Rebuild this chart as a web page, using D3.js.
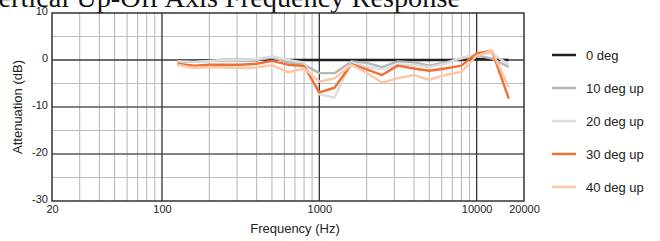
<!DOCTYPE html>
<html>
<head>
<meta charset="utf-8">
<script src="https://cdn.jsdelivr.net/npm/d3@7"></script>
<style>
  body { margin: 0; background: #fff; }
  svg { display: block; }
</style>
</head>
<body>
<div id="chart"></div>
<script>
// frequency points, 1/3 octave
var freqs = [125, 160, 200, 250, 315, 400, 500, 630, 800, 1000, 1250, 1600, 2000, 2500, 3150, 4000, 5000, 6300, 8000, 10000, 12500, 16000];

var deg0  = [-0.2, -0.2, -0.1, 0, 0, 0, 0.2, 0, 0, 0, 0, 0, 0, 0, 0, 0, 0, 0, 0, 0.2, 0.1, 0];
var deg10 = [-0.3, -0.4, -0.2, 0, -0.2, 0, 0.5, -0.5, -1.0, -2.8, -2.8, -0.3, -0.6, -1.5, -0.3, -0.5, -1.2, -0.5, 0.3, 1.0, 0.3, -1.5];
var deg20 = [-0.3, -0.4, -0.2, 0, 0, 0.2, 0.8, 0, -0.5, -7.3, -8.0, -0.5, -1.5, -2.0, -1.0, -1.0, -1.5, -0.8, 0.5, 1.2, 1.5, -1.0];
var deg30 = [-0.8, -1.2, -1.0, -1.0, -1.0, -0.8, -0.2, -1.0, -1.3, -6.9, -5.9, -0.9, -2.0, -3.2, -1.2, -1.8, -2.3, -1.8, -1.2, 1.4, 2.0, -8.2];
var deg40 = [-1.0, -1.7, -1.5, -1.6, -1.7, -1.6, -1.1, -2.6, -1.8, -4.6, -3.9, -1.0, -2.7, -4.8, -3.9, -3.2, -4.2, -3.2, -2.5, 0.9, 2.0, -5.8];

var seriesNames = ['0 deg', '10 deg up', '20 deg up', '30 deg up', '40 deg up'];
var colors = ['#231f20', '#b6b6b6', '#dddddd', '#f26f33', '#fdc7a6'];

var xTicks = [20, 100, 1000, 10000, 20000];
var yTicks = [10, 0, -10, -20, -30];

var margin = {top: 13, right: 136, bottom: 40, left: 52};
var fullWidth = 660;
var fullHeight = 241;
var width = fullWidth - margin.left - margin.right;
var height = fullHeight - margin.top - margin.bottom;

var x = d3.scaleLog().domain([20, 20000]).range([0, width]);
var y = d3.scaleLinear().domain([-30, 10]).range([height, 0]);

var svg = d3.select('#chart').append('svg')
  .attr('width', fullWidth)
  .attr('height', fullHeight);

// title, cut off at the top like the source
svg.append('text')
  .attr('x', 460)
  .attr('y', 7)
  .attr('text-anchor', 'end')
  .style('font-family', '"Liberation Serif", "Times New Roman", serif')
  .style('font-size', '28.3px')
  .attr('fill', '#111')
  .text('Vertical Up-Off Axis Frequency Response');

var g = svg.append('g')
  .attr('transform', 'translate(' + margin.left + ',' + margin.top + ')');

// vertical grid: minor lines inside each decade
var minor = [];
for (var dec = 10; dec <= 10000; dec *= 10) {
  for (var k = 2; k <= 9; k++) {
    var f = dec * k;
    if (f > 20 && f < 20000 && [100, 1000, 10000].indexOf(f) < 0) minor.push(f);
  }
}
g.selectAll('.vminor').data(minor).enter().append('line')
  .attr('x1', function(d) { return x(d); }).attr('x2', function(d) { return x(d); })
  .attr('y1', 0).attr('y2', height)
  .attr('stroke', '#b3b3b3').attr('stroke-width', 1);

// horizontal grid every 5 dB
var hminor = d3.range(-25, 10, 10);
g.selectAll('.hminor').data(hminor).enter().append('line')
  .attr('x1', 0).attr('x2', width)
  .attr('y1', function(d) { return y(d); }).attr('y2', function(d) { return y(d); })
  .attr('stroke', '#bdbdbd').attr('stroke-width', 1);

g.selectAll('.hmajor').data([0, -10, -20]).enter().append('line')
  .attr('x1', 0).attr('x2', width)
  .attr('y1', function(d) { return y(d); }).attr('y2', function(d) { return y(d); })
  .attr('stroke', function(d) { return d === 0 ? '#3a3a3a' : '#5a5a5a'; })
  .attr('stroke-width', 1.5);

g.selectAll('.vmajor').data([100, 1000, 10000]).enter().append('line')
  .attr('x1', function(d) { return x(d); }).attr('x2', function(d) { return x(d); })
  .attr('y1', 0).attr('y2', height)
  .attr('stroke', '#333').attr('stroke-width', 1.3);

// frame
g.append('rect')
  .attr('x', 0).attr('y', 0)
  .attr('width', width).attr('height', height)
  .attr('fill', 'none')
  .attr('stroke', '#333').attr('stroke-width', 1.5);

// axes (labels only)
var xAxis = d3.axisBottom(x).tickValues(xTicks).tickFormat(d3.format('d')).tickSize(0).tickPadding(4);
var yAxis = d3.axisLeft(y).tickValues(yTicks).tickFormat(function(d) { return d; }).tickSize(0).tickPadding(4);

var xa = g.append('g').attr('transform', 'translate(0,' + height + ')').call(xAxis);
var ya = g.append('g').call(yAxis);
[xa, ya].forEach(function(a) {
  a.select('.domain').remove();
  a.selectAll('text')
    .style('font-family', '"Liberation Sans", Arial, sans-serif')
    .style('font-size', '11px')
    .attr('fill', '#222');
});
ya.selectAll('text').attr('dy', '0.1em');

// data lines
var line = d3.line()
  .x(function(d, i) { return x(freqs[i]); })
  .y(function(d) { return y(d); });

var series = [deg0, deg10, deg20, deg30, deg40];
g.selectAll('.series').data(series).enter().append('path')
  .attr('d', line)
  .attr('fill', 'none')
  .attr('stroke', function(d, i) { return colors[i]; })
  .attr('stroke-width', 2.4)
  .attr('stroke-linejoin', 'round');

// axis titles
svg.append('text')
  .attr('x', 295)
  .attr('y', 233)
  .attr('text-anchor', 'middle')
  .style('font-family', '"Liberation Sans", Arial, sans-serif')
  .style('font-size', '13px')
  .attr('fill', '#222')
  .text('Frequency (Hz)');

svg.append('text')
  .attr('transform', 'translate(22,' + (margin.top + y(-10)) + ') rotate(-90)')
  .attr('text-anchor', 'middle')
  .style('font-family', '"Liberation Sans", Arial, sans-serif')
  .style('font-size', '13px')
  .attr('fill', '#222')
  .text('Attenuation (dB)');

// legend
var legend = svg.append('g').attr('transform', 'translate(552,55)');
var items = legend.selectAll('g').data(seriesNames).enter().append('g')
  .attr('transform', function(d, i) { return 'translate(0,' + (i * 33) + ')'; });
items.append('line')
  .attr('x1', 0).attr('x2', 24).attr('y1', 0).attr('y2', 0)
  .attr('stroke', function(d, i) { return colors[i]; })
  .attr('stroke-width', 2.5);
items.append('text')
  .attr('x', 34).attr('y', 0).attr('dy', '0.35em')
  .style('font-family', '"Liberation Sans", Arial, sans-serif')
  .style('font-size', '13px')
  .attr('fill', '#222')
  .text(function(d) { return d; });
</script>
</body>
</html>
